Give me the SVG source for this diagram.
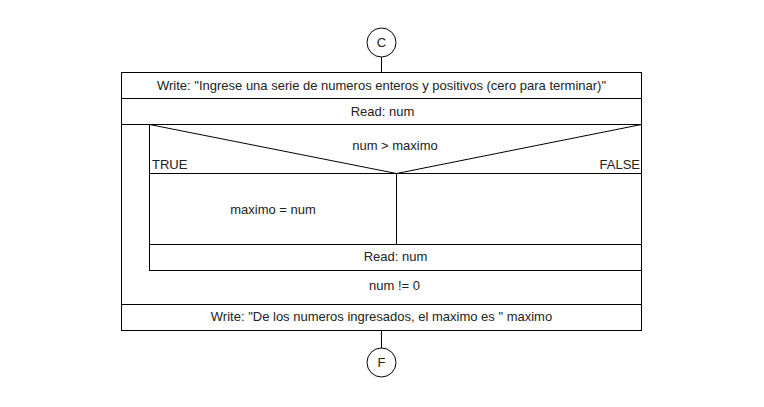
<svg xmlns="http://www.w3.org/2000/svg" width="764" height="407" viewBox="0 0 764 407">
<style>
.b{fill:none;stroke:#000;stroke-width:1}
.t{font-family:"Liberation Sans",Arial,sans-serif;font-size:13px;fill:#222}
.m{text-anchor:middle}
</style>
<rect width="764" height="407" fill="#fff"/>
<g id="connectors">
<line class="b" x1="381.5" y1="57" x2="381.5" y2="72.5"/>
<line class="b" x1="381.5" y1="330.5" x2="381.5" y2="348"/>
</g>
<g id="start">
<circle class="b" cx="381.5" cy="42.5" r="14.5"/>
<text class="t m" x="381.5" y="47">C</text>
</g>
<g id="write1">
<rect class="b" x="121.5" y="72.5" width="520" height="26"/>
<text class="t m" x="381.5" y="90">Write: "Ingrese una serie de numeros enteros y positivos (cero para terminar)"</text>
</g>
<g id="read1">
<rect class="b" x="121.5" y="98.5" width="520" height="26"/>
<text class="t m" x="382.5" y="116">Read: num</text>
</g>
<g id="loop">
<polyline class="b" points="121.5,124.5 121.5,304.5 641.5,304.5 641.5,124.5"/>
<text class="t m" x="394.5" y="290">num != 0</text>
</g>
<g id="decision">
<rect class="b" x="149.5" y="124.5" width="492" height="146"/>
<polyline class="b" points="149.5,124.5 396.5,173.5 641.5,124.5"/>
<line class="b" x1="149.5" y1="173.5" x2="641.5" y2="173.5"/>
<line class="b" x1="396.5" y1="173.5" x2="396.5" y2="244.5"/>
<line class="b" x1="149.5" y1="244.5" x2="641.5" y2="244.5"/>
<text class="t m" x="395" y="150">num &gt; maximo</text>
<text class="t" x="152" y="169">TRUE</text>
<text class="t" x="640" y="169" text-anchor="end">FALSE</text>
</g>
<g id="assign">
<text class="t m" x="273" y="214">maximo = num</text>
</g>
<g id="read2">
<text class="t m" x="395.5" y="261">Read: num</text>
</g>
<g id="write2">
<rect class="b" x="121.5" y="304.5" width="520" height="26"/>
<text class="t m" x="381.5" y="321">Write: "De los numeros ingresados, el maximo es " maximo</text>
</g>
<g id="end">
<circle class="b" cx="381.5" cy="362.5" r="14.5"/>
<text class="t m" x="381.5" y="367">F</text>
</g>
</svg>
